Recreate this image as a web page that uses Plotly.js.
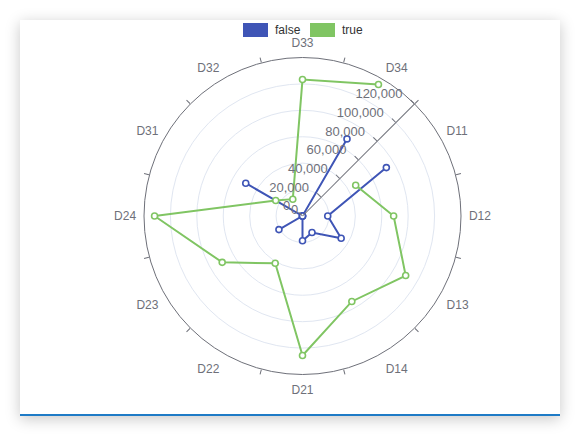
<!DOCTYPE html>
<html>
<head>
<meta charset="utf-8">
<script src="https://cdn.plot.ly/plotly-3.0.1.min.js"></script>
<style>
  html, body { margin: 0; padding: 0; background: #ffffff; width: 580px; height: 437px; overflow: hidden; }
  #card { position: absolute; left: 20px; top: 20px; width: 540px; height: 394px; background: #ffffff;
          border-bottom: 2px solid #1e7bc6; box-shadow: 0 3px 14px rgba(0,0,0,0.22); }
  #chart { position: absolute; left: 0; top: 0; width: 580px; height: 437px; }
</style>
</head>
<body>
<div id="card"></div>
<div id="chart"></div>
<script>
// Categories in series order (clockwise starting at 30°)
const categories = ["D11","D12","D13","D14","D21","D22","D23","D24","D31","D32","D33","D34"];
const seriesNames = ["false","true"];
const falseValues = [73300, 19100, 33800, 14400, 18700, 0, 20600, 0, 49600, 0, 0, 67400];
const trueValues  = [46500, 69000, 90200, 74700, 105600, 41300, 70200, 112000, 23400, 14700, 103300, 115000];
const radialTicks = [0, 20000, 40000, 60000, 80000, 100000, 120000];
const boundaryAngles = [15, 45, 75, 105, 135, 165, 195, 225, 255, 285, 315, 345];

const colors = ["#3f55b6", "#80c563"];
const axisColor = "#6e7079";
const font = "Liberation Sans, Arial, sans-serif";

function series(name, vals, color) {
  return {
    type: "scatterpolar", subplot: "polar", name: name,
    theta: categories, r: vals, mode: "lines+markers",
    line: {color: color, width: 2},
    marker: {symbol: "circle", size: 6, color: "#ffffff", line: {color: color, width: 1.6}},
    showlegend: false, cliponaxis: false
  };
}

const data = [
  {type: "scatterpolar", subplot: "polar2", r: boundaryAngles.map(() => 0), theta: boundaryAngles,
   mode: "markers", marker: {opacity: 0}, hoverinfo: "skip", showlegend: false},
  series(seriesNames[0], falseValues, colors[0]),
  series(seriesNames[1], trueValues, colors[1])
];

const dom = {x: [144/580, 461/580], y: [1 - 374.5/437, 1 - 57.5/437]};
const cx = (dom.x[0] + dom.x[1]) / 2, cy = (dom.y[0] + dom.y[1]) / 2;

const layout = {
  width: 580, height: 437,
  margin: {l: 0, r: 0, t: 0, b: 0},
  paper_bgcolor: "rgba(0,0,0,0)",
  showlegend: false,
  font: {family: font, size: 12, color: axisColor},
  polar: {
    domain: dom, bgcolor: "rgba(0,0,0,0)",
    angularaxis: {
      type: "category", categoryarray: categories, rotation: 30, direction: "clockwise",
      showline: true, linecolor: axisColor, linewidth: 1,
      showgrid: false, ticks: "outside", ticklen: 5, tickcolor: "rgba(0,0,0,0)",
      tickfont: {family: font, size: 12, color: axisColor}
    },
    radialaxis: {
      range: [0, 120000], angle: 45, side: "counterclockwise", tickangle: 45,
      tickvals: radialTicks, tickformat: ",d",
      showline: true, linecolor: axisColor, linewidth: 1,
      ticks: "outside", ticklen: 5, tickcolor: axisColor,
      showgrid: true, gridcolor: "#e0e6f1", gridwidth: 1,
      tickfont: {family: font, size: 13, color: axisColor}
    }
  },
  polar2: {
    domain: dom, bgcolor: "rgba(0,0,0,0)",
    angularaxis: {
      type: "linear", thetaunit: "degrees", rotation: 0, direction: "counterclockwise",
      tickmode: "array", tickvals: boundaryAngles, showticklabels: false,
      ticks: "outside", ticklen: 5, tickcolor: axisColor,
      showline: false, showgrid: false
    },
    radialaxis: {visible: false, range: [0, 1]}
  },
  shapes: [
    {type: "rect", xref: "paper", yref: "paper", x0: 243/580, x1: 268/580, y0: 1 - 37/437, y1: 1 - 23/437,
     fillcolor: colors[0], line: {width: 0}},
    {type: "rect", xref: "paper", yref: "paper", x0: 310/580, x1: 335/580, y0: 1 - 37/437, y1: 1 - 23/437,
     fillcolor: colors[1], line: {width: 0}}
  ],
  annotations: [
    {xref: "paper", yref: "paper", x: 273/580, y: 1 - 30/437, xanchor: "left", yanchor: "middle",
     text: seriesNames[0], showarrow: false, font: {family: font, size: 12, color: "#333333"}},
    {xref: "paper", yref: "paper", x: 340/580, y: 1 - 30/437, xanchor: "left", yanchor: "middle",
     text: seriesNames[1], showarrow: false, font: {family: font, size: 12, color: "#333333"}},
    {xref: "paper", yref: "paper", x: cx, y: cy, xanchor: "right", yanchor: "middle",
     xshift: -3, yshift: 6, text: String(radialTicks[0]), showarrow: false,
     font: {family: font, size: 13, color: axisColor}}
  ]
};

Plotly.newPlot("chart", data, layout, {displayModeBar: false, staticPlot: true});
</script>
</body>
</html>
